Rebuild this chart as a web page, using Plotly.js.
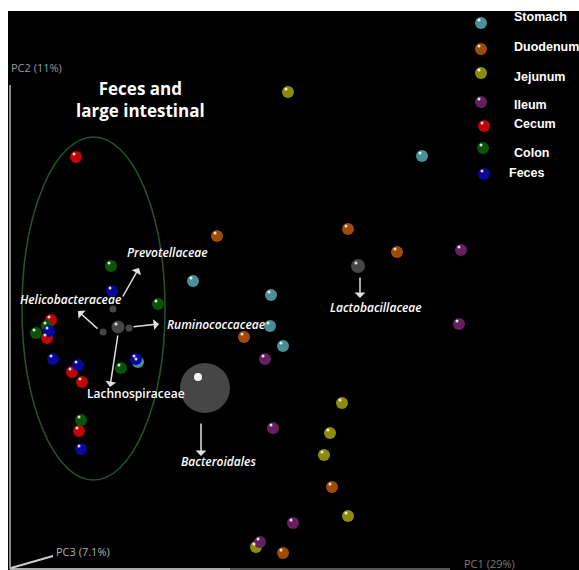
<!DOCTYPE html>
<html>
<head>
<meta charset="utf-8">
<script src="https://cdn.plot.ly/plotly-3.0.1.min.js"></script>
<style>html,body{margin:0;padding:0;background:#fff;}#chart{width:579px;height:570px;}</style>
</head>
<body>
<div id="chart"></div>
<script>
// Groups (legend categories)
const groups = ["Stomach", "Duodenum", "Jejunum", "Ileum", "Cecum", "Colon", "Feces"];

// Sample coordinates (PC1 → x, PC2 → y, screen units)
const stomachX  = [422, 193, 271, 270, 283, 138];
const stomachY  = [156, 281, 295, 326, 346, 362];
const duodenumX = [217, 244, 348, 397, 332, 283];
const duodenumY = [236, 337, 229, 252, 487, 553];
const jejunumX  = [288, 342, 330, 324, 348, 256];
const jejunumY  = [92, 403, 433, 455, 516, 547];
const ileumX    = [461, 459, 265, 273, 293, 260];
const ileumY    = [250, 324, 359, 428, 523, 542];
const cecumX    = [76, 51, 47, 72, 82, 79];
const cecumY    = [157, 320, 338, 372, 382, 431];
const colonX    = [111, 158, 36, 47, 121, 81];
const colonY    = [266, 304, 333, 326, 368, 420];
const fecesX    = [112, 49, 53, 78, 136, 81];
const fecesY    = [291, 331, 359, 365, 359, 449];

// Taxa (biplot) positions and relative abundance weight
const taxaNames  = ["Bacteroidales", "Lactobacillaceae", "centroid", "Prevotellaceae", "Helicobacteraceae", "Ruminococcaceae"];
const taxaX      = [205, 358, 118, 113, 103, 129];
const taxaY      = [388, 266, 327, 309, 332, 328];
const taxaWeight = [50, 14, 13, 7, 7, 7];

// Taxa labels with arrow tail -> head
const labelNames = ["Prevotellaceae", "Helicobacteraceae", "Ruminococcaceae", "Lachnospiraceae", "Bacteroidales", "Lactobacillaceae"];
const arrowTailX = [122, 99, 132, 118, 201, 360];
const arrowTailY = [298, 330, 327, 334, 422, 276];
const arrowHeadX = [139, 78, 159, 110, 201, 360];
const arrowHeadY = [268, 311, 324, 387, 456, 298];
const labelX     = [167, 70, 216, 136, 218, 376];
const labelY     = [252, 299, 324, 393, 461, 307];

const axisLabels = ["PC1 (29%)", "PC2 (11%)", "PC3 (7.1%)"];

const xs = [stomachX, duodenumX, jejunumX, ileumX, cecumX, colonX, fecesX];
const ys = [stomachY, duodenumY, jejunumY, ileumY, cecumY, colonY, fecesY];
const colors = ["#4a8e98", "#a04c08", "#8c8c0a", "#64205f", "#c00404", "#0a540a", "#08089a"];

// legend placement (inside plot, top right)
const legMarkX = [481, 481, 481, 481, 484, 483, 484];
const legMarkY = [23, 49, 73, 102, 126, 148, 174];
const legTextX = [512, 512, 512, 512, 512, 512, 507];
const legTextY = [17, 47, 77, 105, 124, 153, 173];

const traces = [];
groups.forEach((g, i) => {
  traces.push({
    type: "scatter", mode: "markers", name: g, x: xs[i], y: ys[i], showlegend: false,
    marker: {size: 12, color: colors[i], line: {width: 0}}, hoverinfo: "name"
  });
});
traces.push({
  type: "scatter", mode: "markers", name: "taxa", x: taxaX, y: taxaY, text: taxaNames, showlegend: false,
  marker: {size: taxaWeight, color: "#646464", line: {width: 0}}, hoverinfo: "text"
});
traces.push({
  type: "scatter", mode: "markers", x: legMarkX, y: legMarkY, showlegend: false,
  marker: {size: 12, color: colors, line: {width: 0}}, hoverinfo: "skip"
});
// specular highlights, drawn on overlaid axis pairs shifted up-left by a few pixels
const hl = {color: "rgba(255,255,255,0.85)", line: {width: 0}};
groups.forEach((g, i) => {
  traces.push({type: "scatter", mode: "markers", x: xs[i], y: ys[i], xaxis: "x2", yaxis: "y2", showlegend: false,
    marker: Object.assign({size: 3}, hl), hoverinfo: "skip"});
});
traces.push({type: "scatter", mode: "markers", x: legMarkX, y: legMarkY, xaxis: "x2", yaxis: "y2", showlegend: false,
  marker: Object.assign({size: 3}, hl), hoverinfo: "skip"});
traces.push({type: "scatter", mode: "markers", x: taxaX.slice(1, 3), y: taxaY.slice(1, 3), xaxis: "x2", yaxis: "y2", showlegend: false,
  marker: Object.assign({size: 3}, hl), hoverinfo: "skip"});
traces.push({type: "scatter", mode: "markers", x: taxaX.slice(0, 1), y: taxaY.slice(0, 1), xaxis: "x3", yaxis: "y3", showlegend: false,
  marker: {size: 8, color: "rgba(255,255,255,0.95)", line: {width: 0}}, hoverinfo: "skip"});

const annotations = [];
groups.forEach((g, i) => {
  annotations.push({x: legTextX[i], y: legTextY[i], xref: "x", yref: "y", text: "<b>" + g + "</b>", showarrow: false,
    xanchor: "left", yanchor: "middle", font: {family: "Liberation Sans, Arial", size: 12.5, color: "#ffffff"}});
});
labelNames.forEach((n, i) => {
  annotations.push({x: arrowHeadX[i], y: arrowHeadY[i], ax: arrowTailX[i], ay: arrowTailY[i], axref: "x", ayref: "y",
    xref: "x", yref: "y", text: "", showarrow: true, arrowhead: 1, arrowsize: 1.2, arrowwidth: 1.5, arrowcolor: "#e0e0e0"});
  const italic = n !== "Lachnospiraceae";
  annotations.push({x: labelX[i], y: labelY[i], xref: "x", yref: "y", text: italic ? "<i>" + n + "</i>" : n, showarrow: false,
    xanchor: "center", yanchor: "middle",
    font: {family: "Open Sans", size: 12, color: "#ffffff", weight: 600}});
});
annotations.push({x: 140, y: 99, xref: "x", yref: "y", text: "<b>Feces and<br>large intestinal</b>", showarrow: false,
  xanchor: "center", yanchor: "middle", align: "center", font: {family: "Open Sans", size: 17, color: "#ffffff"}});
annotations.push({x: 9, y: 67, xref: "x", yref: "y", text: axisLabels[1], showarrow: false, xanchor: "left", yanchor: "middle",
  font: {family: "Open Sans", size: 11, color: "#9a9a9a"}});
annotations.push({x: 54, y: 551, xref: "x", yref: "y", text: axisLabels[2], showarrow: false, xanchor: "left", yanchor: "middle",
  font: {family: "Open Sans", size: 11, color: "#b0b0b0"}});
annotations.push({x: 462, y: 563, xref: "x", yref: "y", text: axisLabels[0], showarrow: false, xanchor: "left", yanchor: "middle",
  font: {family: "Open Sans", size: 11, color: "#7a7a7a"}});

const shapes = [
  {type: "circle", xref: "x", yref: "y", x0: 22, x1: 165, y0: 137, y1: 480, line: {color: "#24522a", width: 1.6}},
  {type: "line", xref: "x", yref: "y", x0: 10, x1: 10, y0: 85, y1: 569, line: {color: "#8a8a8a", width: 2}},
  {type: "line", xref: "x", yref: "y", x0: 10, x1: 230, y0: 569, y1: 569, line: {color: "#aaaaaa", width: 2}},
  {type: "line", xref: "x", yref: "y", x0: 230, x1: 450, y0: 569, y1: 569, line: {color: "#555555", width: 2}},
  {type: "line", xref: "x", yref: "y", x0: 11, x1: 53, y0: 568, y1: 556, line: {color: "#cccccc", width: 2}}
];

const layout = {
  width: 579, height: 570,
  margin: {l: 8, r: 0, t: 11, b: 0},
  paper_bgcolor: "#ffffff", plot_bgcolor: "#000000",
  xaxis: {range: [8, 579], visible: false, fixedrange: true},
  yaxis: {range: [570, 11], visible: false, fixedrange: true},
  xaxis2: {range: [10, 581], visible: false, overlaying: "x", fixedrange: true},
  yaxis2: {range: [573, 14], visible: false, overlaying: "y", fixedrange: true},
  xaxis3: {range: [15, 586], visible: false, overlaying: "x", fixedrange: true},
  yaxis3: {range: [581, 22], visible: false, overlaying: "y", fixedrange: true},
  showlegend: false,
  annotations: annotations, shapes: shapes
};
Plotly.newPlot("chart", traces, layout, {displayModeBar: false, staticPlot: true});
</script>
</body>
</html>
